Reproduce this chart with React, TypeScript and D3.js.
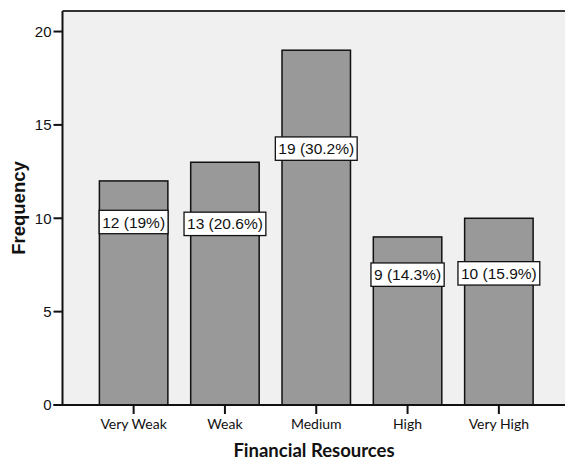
import React, { useEffect, useRef } from "react";
import * as d3 from "d3";

const categories = ["Very Weak", "Weak", "Medium", "High", "Very High"];
const frequencies = [12, 13, 19, 9, 10];
const labelTexts = ["12 (19%)", "13 (20.6%)", "19 (30.2%)", "9 (14.3%)", "10 (15.9%)"];
const labelAt = [9.8, 9.7, 13.73, 6.98, 7.05];
const yTicks = [0, 5, 10, 15, 20];

const W = 565;
const H = 462;
const left = 62.5;
const right = 570;
const top = 11;
const bottom = 405;

export default function App() {
  const ref = useRef<SVGSVGElement | null>(null);
  useEffect(() => {
    const svg = d3.select(ref.current);
    svg.selectAll("*").remove();
    const x = d3.scaleBand<string>().domain(categories).range([left, right]).paddingInner(0.25).paddingOuter(0.404);
    const y = d3.scaleLinear().domain([0, 21.1]).range([bottom, top]);

    svg.append("rect").attr("x", left).attr("y", top).attr("width", right - left).attr("height", bottom - top).attr("fill", "#f0f0f0");

    svg.selectAll("rect.bar").data(frequencies).enter().append("rect")
      .attr("class", "bar")
      .attr("x", (_d, i) => x(categories[i])!)
      .attr("y", (d) => y(d))
      .attr("width", x.bandwidth())
      .attr("height", (d) => y(0) - y(d))
      .attr("fill", "#999999")
      .attr("stroke", "#111")
      .attr("stroke-width", 1.5);

    svg.append("line").attr("x1", left).attr("x2", right).attr("y1", top).attr("y2", top).attr("stroke", "#333").attr("stroke-width", 2);
    svg.append("line").attr("x1", left).attr("x2", left).attr("y1", top).attr("y2", bottom).attr("stroke", "#111").attr("stroke-width", 2);
    svg.append("line").attr("x1", left - 9).attr("x2", right).attr("y1", bottom).attr("y2", bottom).attr("stroke", "#111").attr("stroke-width", 2);

    const yt = svg.append("g");
    yTicks.forEach((t) => {
      yt.append("line").attr("x1", left - 9).attr("x2", left).attr("y1", y(t)).attr("y2", y(t)).attr("stroke", "#111").attr("stroke-width", 2);
      yt.append("text").attr("x", left - 11).attr("y", y(t)).attr("dy", "0.36em").attr("text-anchor", "end")
        .attr("font-family", "Liberation Sans, Arial, sans-serif").attr("font-size", 15).attr("fill", "#111").text(String(t));
    });

    categories.forEach((c) => {
      const cx = x(c)! + x.bandwidth() / 2;
      svg.append("line").attr("x1", cx).attr("x2", cx).attr("y1", bottom).attr("y2", bottom + 9).attr("stroke", "#111").attr("stroke-width", 2);
      svg.append("text").attr("x", cx).attr("y", bottom + 24).attr("text-anchor", "middle")
        .attr("font-family", "Lato, Open Sans, sans-serif").attr("font-size", 14).attr("fill", "#111").text(c);
    });

    svg.append("text").attr("x", 314).attr("y", 457).attr("text-anchor", "middle")
      .attr("font-family", "Lato, Open Sans, sans-serif").attr("font-weight", "bold").attr("font-size", 18.5).attr("fill", "#111")
      .text("Financial Resources");

    svg.append("text").attr("transform", `translate(25,${(top + bottom) / 2}) rotate(-90)`).attr("text-anchor", "middle")
      .attr("font-family", "Liberation Sans, Arial, sans-serif").attr("font-weight", "bold").attr("font-size", 18.5).attr("fill", "#111")
      .text("Frequency");

    labelTexts.forEach((t, i) => {
      const cx = x(categories[i])! + x.bandwidth() / 2;
      const cy = y(labelAt[i]);
      const g = svg.append("g");
      const rect = g.append("rect");
      const txt = g.append("text").attr("x", cx).attr("y", cy).attr("dy", "0.36em").attr("text-anchor", "middle")
        .attr("font-family", "Liberation Sans, Arial, sans-serif").attr("font-size", 15.5).attr("fill", "#111").text(t);
      const w = (txt.node() as SVGTextElement).getComputedTextLength() + 6;
      rect.attr("x", cx - w / 2).attr("y", cy - 11.7).attr("width", w).attr("height", 23.4).attr("fill", "#fff").attr("stroke", "#111").attr("stroke-width", 1.3);
    });
  }, []);
  return (
    <svg ref={ref} width={W} height={H} style={{ position: "absolute", left: 0, top: 0, background: "#fff" }} />
  );
}
